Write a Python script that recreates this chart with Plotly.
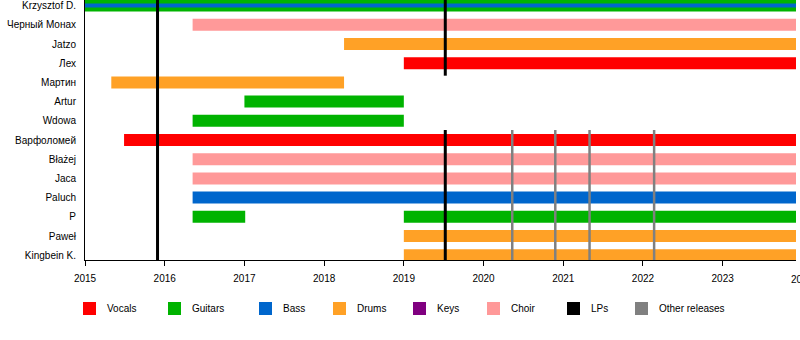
import plotly.graph_objects as go

# ---------------- data ----------------
members = ["Krzysztof D.", "Черный Монах", "Jatzo", "Лех", "Мартин", "Artur", "Wdowa",
           "Варфоломей", "Błażej", "Jaca", "Paluch", "P", "Paweł", "Kingbein K."]

role_names = ["Vocals", "Guitars", "Bass", "Drums", "Keys", "Choir", "LPs", "Other releases"]
role_colors = ["#ff0000", "#00b300", "#0066cc", "#ffa126", "#800080", "#ff9999", "#000000", "#808080"]

START = 2015.0
END = 2023.92

period_member = ["Krzysztof D.", "Krzysztof D.", "Черный Монах", "Jatzo", "Лех", "Мартин",
                 "Artur", "Wdowa", "Варфоломей", "Błażej", "Jaca", "Paluch", "P", "P",
                 "Paweł", "Kingbein K."]
period_role = ["Guitars", "Bass", "Choir", "Drums", "Vocals", "Drums",
               "Guitars", "Guitars", "Vocals", "Choir", "Choir", "Bass", "Guitars", "Guitars",
               "Drums", "Drums"]
period_start = [2015.0, 2015.0, 2016.35, 2018.25, 2019.0, 2015.33,
                2017.0, 2016.35, 2015.49, 2016.35, 2016.35, 2016.35, 2016.35, 2019.0,
                2019.0, 2019.0]
period_end = [END, END, END, END, END, 2018.25,
              2019.0, 2019.0, END, END, END, END, 2017.01, END,
              END, END]

lp_dates = [2015.91, 2019.52]
lp_spans = [[("Krzysztof D.", "Kingbein K.")],
            [("Krzysztof D.", "Лех"), ("Варфоломей", "Kingbein K.")]]
other_dates = [2020.36, 2020.90, 2021.33, 2022.14]
other_spans = [[("Варфоломей", "Kingbein K.")]] * 4

xtick_years = list(range(2015, 2025))

# ---------------- layout constants ----------------
W, H = 800, 340
ML, MR, MT, MB = 85, 4, 0, 80
PW, PH = W - ML - MR, H - MT - MB
BAR_W = 0.625
INNER_W = 0.21
PAD_TOP, PAD_BOT = 0.52, 0.65
FONT = "Liberation Sans, Arial, sans-serif"

color_of = dict(zip(role_names, role_colors))
row_of = {m: i for i, m in enumerate(members)}

fig = go.Figure()

# bars, one trace per role
drawn = []
widths_by_idx = []
for i in range(len(period_member)):
    m, s, e = period_member[i], period_start[i], period_end[i]
    overlap = any(pm == m and ps < e and s < pe for (pm, ps, pe) in drawn)
    widths_by_idx.append(INNER_W if overlap else BAR_W)
    drawn.append((m, s, e))

for role in role_names[:6]:
    idx = [i for i, r in enumerate(period_role) if r == role]
    if not idx:
        continue
    fig.add_trace(go.Bar(
        orientation="h",
        y=[row_of[period_member[i]] for i in idx],
        base=[period_start[i] for i in idx],
        x=[period_end[i] - period_start[i] for i in idx],
        width=[widths_by_idx[i] for i in idx],
        marker=dict(color=color_of[role], line=dict(width=0)),
        name=role, showlegend=False, hoverinfo="skip",
    ))


def line_trace(dates, spans, color, width):
    xs, ys = [], []
    for d, segs in zip(dates, spans):
        for a, b in segs:
            xs += [d, d, None]
            ys += [row_of[a] - PAD_TOP, row_of[b] + PAD_BOT, None]
    return go.Scatter(x=xs, y=ys, mode="lines", line=dict(color=color, width=width),
                      showlegend=False, hoverinfo="skip")


fig.add_trace(line_trace(other_dates, other_spans, color_of["Other releases"], 2.5))
fig.add_trace(line_trace(lp_dates, lp_spans, color_of["LPs"], 3))

# row -> pixel mapping: centre of row k at 5.6 + 19.2 k
ROW0, ROWSTEP = 5.6, 19.2
y_top = (0 - ROW0) / ROWSTEP
y_bot = (PH - ROW0) / ROWSTEP

fig.update_yaxes(
    range=[y_bot, y_top], tickvals=list(range(len(members))), ticktext=members,
    showline=True, linecolor="black", linewidth=1, ticks="", showgrid=False, zeroline=False,
    tickfont=dict(family=FONT, size=10, color="black"), ticklabelstandoff=6,
)
fig.update_xaxes(
    range=[START, END], tickvals=[y for y in xtick_years if y <= END],
    ticktext=[str(y) for y in xtick_years if y <= END],
    showline=True, linecolor="black", linewidth=1, ticks="outside", ticklen=5,
    tickcolor="black", tickwidth=1, showgrid=False, zeroline=False,
    tickfont=dict(family=FONT, size=10, color="black"), ticklabelstandoff=4,
)

# tick label beyond the plotted range (cut by the page edge)
annotations = []
for yv in xtick_years:
    if yv > END:
        annotations.append(dict(
            x=(yv - START) / (END - START), xref="paper", y=0, yref="paper",
            yanchor="top", xanchor="center", yshift=-12, showarrow=False, text=str(yv),
            font=dict(family=FONT, size=10, color="black")))

# manual legend
LEGEND_X = [83, 168, 259, 333, 413, 487, 567, 635]
LEGEND_TOP, LEGEND_SQ, LEGEND_TXT_DX = 302, 13, 22


def px(xp):
    return (xp - ML) / PW


def py(yp):
    return (MT + PH - yp) / PH


shapes = []
for name, col, lx in zip(role_names, role_colors, LEGEND_X):
    shapes.append(dict(type="rect", xref="paper", yref="paper",
                       x0=px(lx), x1=px(lx + LEGEND_SQ), y0=py(LEGEND_TOP + LEGEND_SQ), y1=py(LEGEND_TOP),
                       fillcolor=col, line=dict(width=0)))
    annotations.append(dict(x=px(lx + LEGEND_TXT_DX), y=py(LEGEND_TOP + LEGEND_SQ / 2),
                            xref="paper", yref="paper", xanchor="left", yanchor="middle",
                            showarrow=False, text=name,
                            font=dict(family=FONT, size=10, color="black")))

fig.update_layout(
    width=W, height=H, margin=dict(l=ML, r=MR, t=MT, b=MB, pad=0),
    paper_bgcolor="white", plot_bgcolor="white", barmode="overlay",
    shapes=shapes, annotations=annotations, showlegend=False,
)

fig.write_html("out.html")
